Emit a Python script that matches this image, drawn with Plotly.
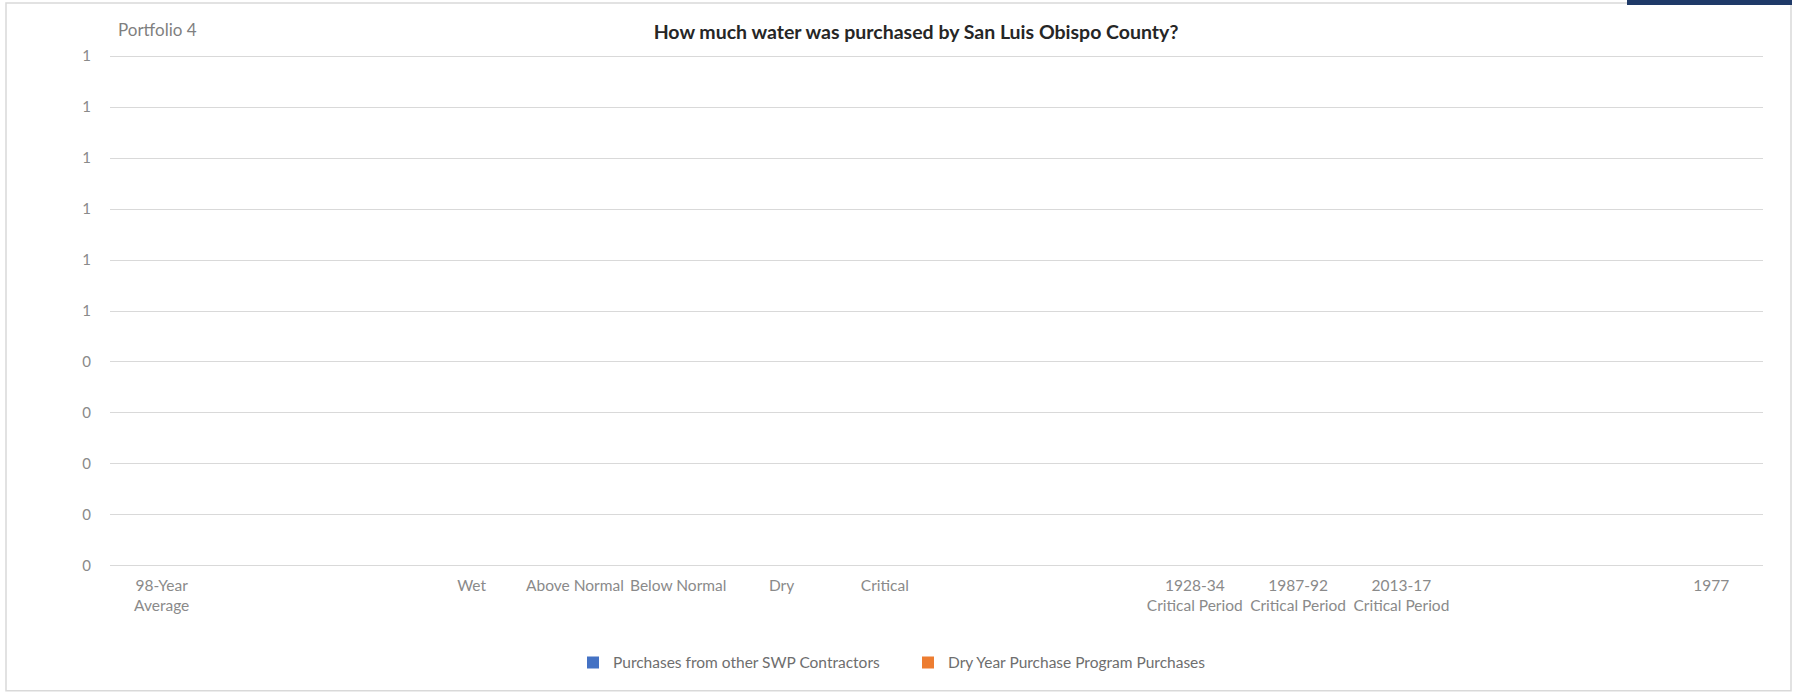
import plotly.graph_objects as go

# Water-year categories along the x axis (blank slots are spacer columns)
categories = [
    "98-Year<br>Average", "", "", "Wet", "Above Normal", "Below Normal",
    "Dry", "Critical", "", "", "1928-34<br>Critical Period",
    "1987-92<br>Critical Period", "2013-17<br>Critical Period", "", "", "1977",
]

# Purchased water per category (no purchases under this portfolio)
swp_contractor_purchases = [0, 0, 0, 0, 0, 0, 0, 0, 0, 0, 0, 0, 0, 0, 0, 0]
dry_year_program_purchases = [0, 0, 0, 0, 0, 0, 0, 0, 0, 0, 0, 0, 0, 0, 0, 0]

y_ticks = [0, 0.1, 0.2, 0.3, 0.4, 0.5, 0.6, 0.7, 0.8, 0.9, 1.0]

W, H = 1799, 693
Y_PAD = 0.01                      # small headroom so edge gridlines stay visible
PX_ZERO, PX_ONE = 566, 56         # pixel rows of y=0 and y=1
UNIT = PX_ZERO - PX_ONE
PLOT_L, PLOT_R = 110, 1763
PLOT_T = PX_ONE - Y_PAD * UNIT
PLOT_B = PX_ZERO + Y_PAD * UNIT

FONT = "Lato, 'Open Sans', sans-serif"
GREY_TEXT = "#8a8a8a"
GRID = "#d9d9d9"

positions = list(range(len(categories)))


def px_x(px):
    return (px - PLOT_L) / (PLOT_R - PLOT_L)


def px_y(py):
    return (PLOT_B - py) / (PLOT_B - PLOT_T)


fig = go.Figure()
fig.add_trace(go.Bar(
    x=positions, y=swp_contractor_purchases,
    name="Purchases from other SWP Contractors",
    marker=dict(color="#4472C4", line=dict(width=0)),
))
fig.add_trace(go.Bar(
    x=positions, y=dry_year_program_purchases,
    name="Dry Year Purchase Program Purchases",
    marker=dict(color="#ED7D31", line=dict(width=0)),
))

fig.update_layout(
    width=W, height=H,
    margin=dict(l=PLOT_L, r=W - PLOT_R, t=PLOT_T, b=H - PLOT_B, pad=0),
    paper_bgcolor="white", plot_bgcolor="white",
    barmode="stack",
    font=dict(family=FONT, color=GREY_TEXT, size=15),
    showlegend=True,
    legend=dict(
        orientation="h", x=px_x(908), xanchor="center",
        y=px_y(663), yanchor="middle",
        font=dict(family=FONT, size=15.5, color="#6e6e6e"),
        itemwidth=30, traceorder="normal", entrywidth=290,
    ),
    xaxis=dict(
        range=[-0.5, len(categories) - 0.5],
        tickmode="array", tickvals=positions, ticktext=categories,
        showgrid=False, zeroline=False, showline=False,
        ticks="", ticklabelstandoff=3,
        tickfont=dict(family=FONT, size=15.5, color=GREY_TEXT),
        fixedrange=True,
    ),
    yaxis=dict(
        range=[-Y_PAD, 1 + Y_PAD],
        tickmode="array", tickvals=y_ticks, tickformat=".0f",
        showgrid=True, gridcolor=GRID, gridwidth=1,
        zeroline=True, zerolinecolor=GRID, zerolinewidth=1,
        showline=False,
        ticks="", ticklabelstandoff=18,
        tickfont=dict(family=FONT, size=15, color=GREY_TEXT),
        fixedrange=True,
    ),
    title=dict(
        text="<b>How much water was purchased by San Luis Obispo County?</b>",
        x=916 / W, xanchor="center", y=1 - 32 / H, yanchor="middle",
        font=dict(family=FONT, size=19.5, color="#262626"),
    ),
)

# Chart frame
fig.add_shape(
    type="rect", xref="paper", yref="paper",
    x0=px_x(6), x1=px_x(1791), y0=px_y(691), y1=px_y(3),
    line=dict(color=GRID, width=1.5), fillcolor="rgba(0,0,0,0)",
    layer="below",
)
# Dark header strip at the top right corner
fig.add_shape(
    type="rect", xref="paper", yref="paper",
    x0=px_x(1627), x1=px_x(1792), y0=px_y(5), y1=px_y(0),
    line=dict(width=0), fillcolor="#1f3a68",
)

fig.add_annotation(
    text="Portfolio 4", xref="paper", yref="paper",
    x=px_x(116), xanchor="left", y=px_y(29), yanchor="middle",
    showarrow=False, font=dict(family=FONT, size=17, color="#7f7f7f"),
)

fig.write_html("out.html")
